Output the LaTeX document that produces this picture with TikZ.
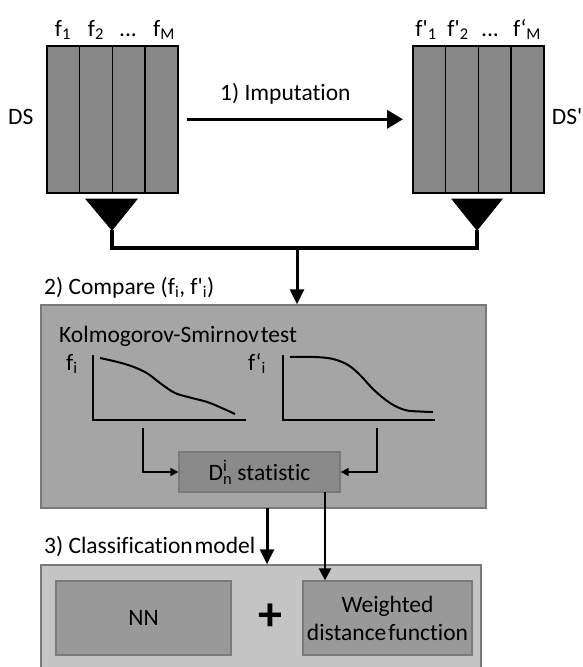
\documentclass[tikz,border=0pt]{standalone}
\usepackage{fontspec}
\newfontfamily\cf{Carlito}[Ligatures=NoCommon]
\usetikzlibrary{arrows.meta}
\definecolor{matgray}{HTML}{888888}
\definecolor{boxtwo}{HTML}{A5A5A5}
\definecolor{dfill}{HTML}{8A8A8A}
\definecolor{boxthree}{HTML}{C4C4C4}
\definecolor{innerfill}{HTML}{999999}
\definecolor{borderg}{HTML}{7A7A7A}
\newcommand{\nsp}{\hspace{0.08em}}
\begin{document}
\begin{tikzpicture}[x=1pt,y=-1pt,
  every node/.style={font=\cf\fontsize{23.5}{29}\selectfont},
  col/.style={draw=black, line width=1.6pt, fill=matgray, minimum width=32.75pt, minimum height=147pt, inner sep=0pt, anchor=north west},
  lbl/.style={inner sep=0pt, anchor=base},
  lblw/.style={inner sep=0pt, anchor=base west},
  panel/.style={draw=borderg, line width=1.3pt, inner sep=0pt},
  bigarrow/.style={line width=3.6pt, -{Triangle[length=16pt,width=18pt]}},
  midarrow/.style={line width=3pt, -{Triangle[length=15pt,width=14pt]}},
  thinarrow/.style={line width=1.5pt, -{Triangle[length=8pt,width=8pt]}},
  funnel/.style={fill=black, draw=black, line width=1pt},
  wire/.style={line width=3.6pt},
  axis/.style={line width=2.6pt},
  curve/.style={line width=2pt, smooth, tension=0.6}
]
\useasboundingbox (0,0) rectangle (583,667);
\clip (0,0) rectangle (583,667);

% ---------- DS matrix ----------
\node[col] (a1) at (46,45) {};
\node[col] (a2) at (78.75,45) {};
\node[col] (a3) at (111.5,45) {};
\node[col] (a4) at (144.25,45) {};
\node[lbl] (la1) at (63,36) {f\textsubscript{1}};
\node[lbl] (la2) at (96,36) {f\textsubscript{2}};
\node[lbl] (la3) at (128,36) {...};
\node[lbl] (la4) at (164,36) {f\textsubscript{M}};
\node[lblw] (ds) at (8,124) {DS};

% ---------- DS' matrix ----------
\node[col] (b1) at (412,45) {};
\node[col] (b2) at (444.75,45) {};
\node[col] (b3) at (477.5,45) {};
\node[col] (b4) at (510.25,45) {};
\node[lbl] (lb1) at (426,36) {f'\textsubscript{1}};
\node[lbl] (lb2) at (458,36) {f'\textsubscript{2}};
\node[lbl] (lb3) at (490,36) {...};
\node[lbl] (lb4) at (527,36) {f‘\textsubscript{M}};
\node[inner sep=0pt, anchor=base east] (dsp) at (582.5,124) {DS'};

% ---------- imputation ----------
\node[lblw] (imp) at (220,100) {1) Imputation};
\draw[bigarrow, shorten <=8pt, shorten >=9pt] (a4.east) -- (b1.west);

% ---------- funnels ----------
\coordinate (fa) at (112,230);
\coordinate (fb) at (477,230);
\coordinate (ja) at (112,248);
\coordinate (jb) at (477,248);
\coordinate (jc) at (297,248);
\fill[funnel] (86,199) -- (137,199) -- (fa) -- cycle;
\fill[funnel] (452,199) -- (502,199) -- (fb) -- cycle;
\draw[wire, line join=miter] (fa) -- (ja) -- (jb) -- (fb);

% ---------- box 2 ----------
\node[lblw] (cmp) at (44,294) {2) Compare (f\textsubscript{i}, f'\textsubscript{i})};
\node[panel, fill=boxtwo, minimum width=445pt, minimum height=203pt] (box2) at (263.5,406.5) {};
\draw[midarrow] (jc) -- (jc |- box2.north);
\node[lblw] (ks) at (59,342) {Kolmogorov-Smirnov\nsp test};

% plot 1
\node[lblw] (fi) at (66,370) {f\textsubscript{i}};
\draw[axis] (93,355) -- (93,420) -- (246,420);
\draw[curve] plot coordinates {(100,358) (125,364) (145,372) (160,383) (175,393) (192,398) (210,403) (235,414)};
% plot 2
\node[lblw] (fpi) at (248,370) {f‘\textsubscript{i}};
\draw[axis] (283,355) -- (283,420) -- (435,420);
\draw[curve] plot coordinates {(290,357) (315,357) (333,359) (348,365) (360,375) (374,390) (390,403) (405,410) (420,411.5) (433,412)};

% D statistic
\node[panel, fill=dfill, minimum width=161pt, minimum height=40pt] (dbox) at (259.5,472) {D\rlap{\textsuperscript{i}}\textsubscript{n} statistic};
\coordinate (pa) at (143,428);
\coordinate (pb) at (377,428);
\draw[thinarrow] (pa) |- (dbox.west);
\draw[thinarrow] (pb) |- (dbox.east);

% ---------- box 3 ----------
\node[lblw] (cls) at (44,553) {3) Classification\nsp model};
\node[panel, fill=boxthree, minimum width=440pt, minimum height=135pt] (box3) at (261,632.5) {};
\node[panel, fill=innerfill, minimum width=175pt, minimum height=74pt] (nn) at (143.5,618) {NN};
\node[panel, fill=innerfill, minimum width=169pt, minimum height=74pt, align=center] (wd) at (387.5,618) {Weighted\\[-1pt]distance\nsp function};
\node[inner sep=0pt, font=\cf\bfseries\fontsize{48}{48}\selectfont] (plus) at (270,617) {+};

\coordinate (m1) at (267,508);
\draw[midarrow] (m1) -- (m1 |- box3.north);
\coordinate (dout) at (325,492);
\draw[line width=2.4pt, -{Triangle[length=12pt,width=12pt]}] (dout) -- (dout |- wd.north);
\end{tikzpicture}
\end{document}
